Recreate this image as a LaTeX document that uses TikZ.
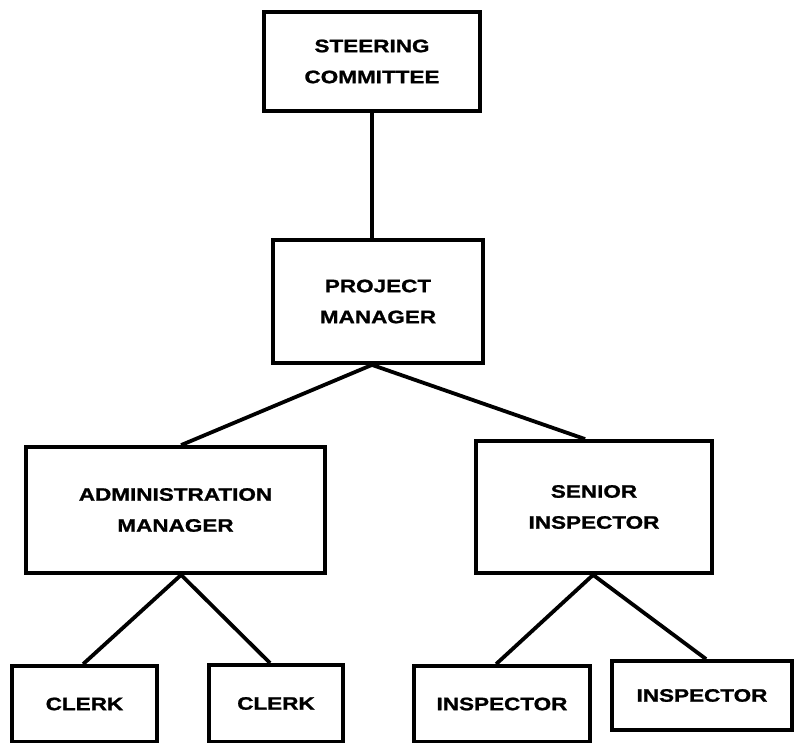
\documentclass[tikz,border=0pt]{standalone}
\usepackage{fontspec}
\newfontfamily\boxfont{Liberation Sans}[FakeStretch=1.25,BoldFeatures={FakeBold=1.2}]
\begin{document}
\begin{tikzpicture}[x=1pt,y=-1pt,
  orgbox/.style={draw=black, line width=3.8pt, fill=white, inner sep=0pt,
    align=center, font=\boxfont\bfseries\fontsize{18}{31}\selectfont},
  link/.style={draw=black, line width=3.8pt}]
\useasboundingbox (0,0) rectangle (795,743);
\fill[white] (0,0) rectangle (795,743);
\node[orgbox, minimum width=216pt, minimum height=99pt] (steer) at (372,61.5) {STEERING\\COMMITTEE};
\node[orgbox, minimum width=210pt, minimum height=123pt] (pm) at (378,301.5) {PROJECT\\MANAGER};
\node[orgbox, minimum width=299pt, minimum height=126pt] (adm) at (175.5,510) {ADMINISTRATION\\MANAGER};
\node[orgbox, minimum width=236pt, minimum height=132pt] (sen) at (594,507) {SENIOR\\INSPECTOR};
\node[orgbox, minimum width=145pt, minimum height=76pt] (c1) at (84.5,704) {CLERK};
\node[orgbox, minimum width=134pt, minimum height=77pt] (c2) at (276,703.5) {CLERK};
\node[orgbox, minimum width=176pt, minimum height=76pt] (i1) at (502,704) {INSPECTOR};
\node[orgbox, minimum width=180pt, minimum height=69pt] (i2) at (702,695.5) {INSPECTOR};
\draw[link] (steer.south) -- (steer.south |- pm.north);
\draw[link] ([xshift=157pt]adm.north west) -- ([xshift=-6pt]pm.south) -- ([xshift=111pt]sen.north west);
\draw[link] ([xshift=73pt]c1.north west) -- ([xshift=157pt]adm.south west) -- ([xshift=63pt]c2.north west);
\draw[link] ([xshift=84pt]i1.north west) -- ([xshift=119pt]sen.south west) -- ([xshift=96pt]i2.north west);
\end{tikzpicture}
\end{document}
